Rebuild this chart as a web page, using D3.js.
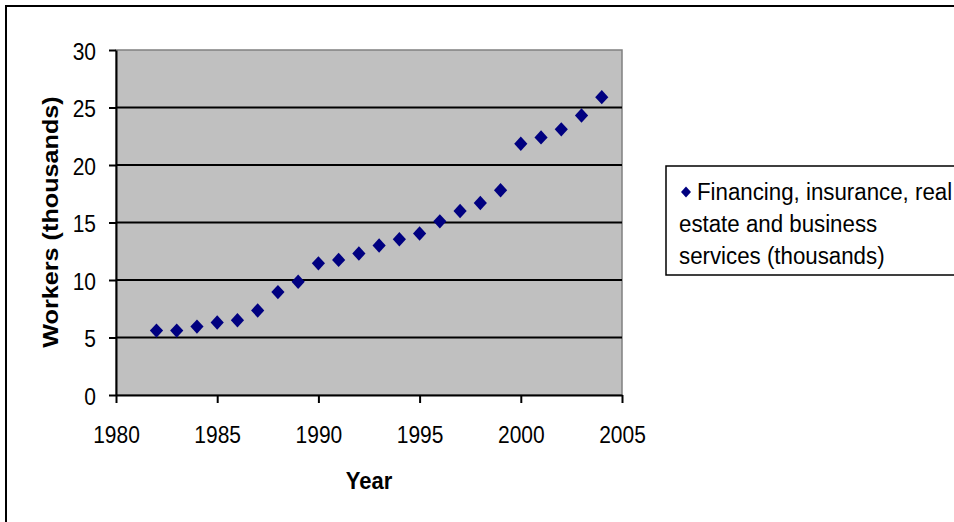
<!DOCTYPE html>
<html>
<head>
<meta charset="utf-8">
<script src="https://cdn.jsdelivr.net/npm/d3@7"></script>
<style>
  html, body { margin: 0; padding: 0; background: #fff; }
  svg { display: block; font-family: "Liberation Sans", Arial, sans-serif; }
</style>
</head>
<body>
<svg id="chart" width="954" height="522"></svg>
<script>
// Workers in financing, insurance, real estate and business services, by year
const years = [1982, 1983, 1984, 1985, 1986, 1987, 1988, 1989, 1990, 1991, 1992, 1993,
               1994, 1995, 1996, 1997, 1998, 1999, 2000, 2001, 2002, 2003, 2004];
const workers = [5.6, 5.6, 5.95, 6.3, 6.5, 7.35, 8.95, 9.85, 11.45, 11.75, 12.3, 13.0,
                 13.55, 14.05, 15.1, 16.0, 16.7, 17.8, 21.85, 22.4, 23.1, 24.3, 25.9];
const xTicks = [1980, 1985, 1990, 1995, 2000, 2005];
const yTicks = [0, 5, 10, 15, 20, 25, 30];
const seriesName = ["Financing, insurance, real", "estate and business", "services (thousands)"];

const svg = d3.select("#chart");
const plot = { left: 116, top: 50, right: 622, bottom: 395 };
const stretch = 1.12; // text is drawn slightly tall

const x = d3.scaleLinear().domain([1980, 2005]).range([plot.left, plot.right]);
const y = d3.scaleLinear().domain([0, 30]).range([plot.bottom, plot.top]);

// diamond marker, a touch taller than wide
const diamondType = (hw, hh) => ({
  draw(ctx) {
    ctx.moveTo(0, -hh); ctx.lineTo(hw, 0); ctx.lineTo(0, hh); ctx.lineTo(-hw, 0); ctx.closePath();
  }
});

// outer chart frame
svg.append("rect")
  .attr("x", 6).attr("y", 6).attr("width", 1000).attr("height", 600)
  .attr("fill", "#fff").attr("stroke", "#000").attr("stroke-width", 2);

// plot background
svg.append("rect")
  .attr("x", plot.left).attr("y", plot.top)
  .attr("width", plot.right - plot.left).attr("height", plot.bottom - plot.top)
  .attr("fill", "#c0c0c0").attr("stroke", "#808080").attr("stroke-width", 1.5);

// horizontal gridlines
svg.append("g").selectAll("line")
  .data(yTicks.filter(d => d > 0 && d < 30))
  .join("line")
  .attr("x1", plot.left).attr("x2", plot.right)
  .attr("y1", d => y(d)).attr("y2", d => y(d))
  .attr("stroke", "#000").attr("stroke-width", 2);

// axes
const yAxis = svg.append("g")
  .attr("transform", `translate(${plot.left},0)`)
  .call(d3.axisLeft(y).tickValues(yTicks).tickSize(7).tickSizeOuter(0));
const xAxis = svg.append("g")
  .attr("transform", `translate(0,${plot.bottom})`)
  .call(d3.axisBottom(x).tickValues(xTicks).tickFormat(d3.format("d")).tickSize(8).tickSizeOuter(0));

[yAxis, xAxis].forEach(g => {
  g.select(".domain").attr("stroke", "#000").attr("stroke-width", 2);
  g.selectAll(".tick line").attr("stroke", "#000").attr("stroke-width", 2);
  g.selectAll(".tick text")
    .attr("fill", "#000")
    .attr("x", 0).attr("y", 0).attr("dy", null)
    .style("font-family", "'Liberation Sans', Arial, sans-serif")
    .style("font-size", "21px");
});
xAxis.selectAll(".tick text")
  .attr("transform", `translate(0,48) scale(1,${stretch})`);
yAxis.selectAll(".tick text")
  .attr("transform", `translate(-20,9) scale(1,${stretch})`);

// data markers
svg.append("g").selectAll("path")
  .data(years.map((yr, i) => ({ yr, v: workers[i] })))
  .join("path")
  .attr("d", d3.symbol().type(diamondType(6.6, 7.2)))
  .attr("transform", d => `translate(${x(d.yr)},${y(d.v)})`)
  .attr("fill", "#000080");

// axis titles
svg.append("text")
  .attr("transform", `translate(369,489) scale(1,${stretch})`)
  .attr("text-anchor", "middle")
  .style("font-size", "22px").style("font-weight", "bold")
  .text("Year");

svg.append("text")
  .attr("transform", `translate(58,222) scale(1,${stretch}) rotate(-90)`)
  .attr("text-anchor", "middle")
  .style("font-size", "22.5px").style("font-weight", "bold")
  .text("Workers (thousands)");

// legend
const legend = svg.append("g");
legend.append("rect")
  .attr("x", 666).attr("y", 166).attr("width", 400).attr("height", 109)
  .attr("fill", "#fff").attr("stroke", "#000").attr("stroke-width", 1.5);
legend.append("path")
  .attr("d", d3.symbol().type(diamondType(5, 5.5)))
  .attr("transform", "translate(686,192)")
  .attr("fill", "#000080");
legend.selectAll("text.item")
  .data(seriesName)
  .join("text")
  .attr("class", "item")
  .attr("transform", (d, i) => `translate(${i === 0 ? 697 : 679},${200 + i * 32}) scale(1,1.08)`)
  .style("font-size", "22.3px")
  .text(d => d);
</script>
</body>
</html>
